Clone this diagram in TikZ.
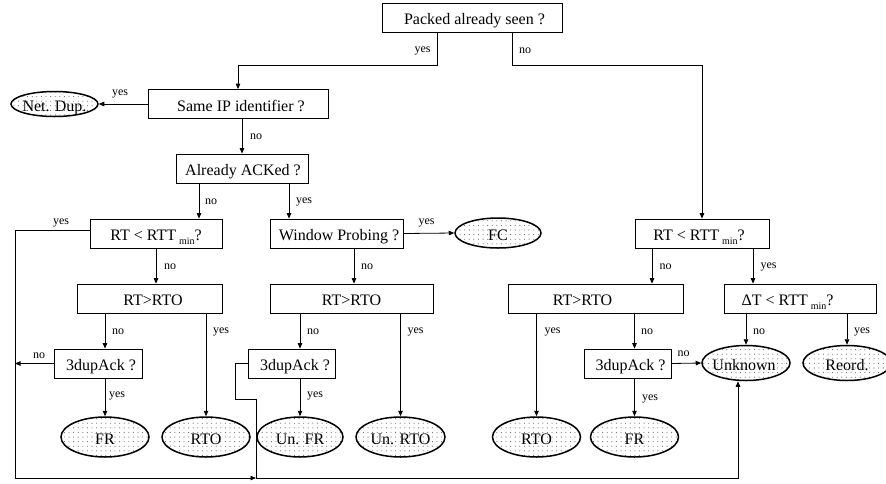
\documentclass[tikz,border=0pt]{standalone}
\usepackage{fontspec}
\setmainfont{Liberation Serif}
\usetikzlibrary{arrows.meta,shapes.geometric,patterns}

% sparse dot fill for the outcome ellipses
\pgfdeclarepatternformonly{sparsedots}{\pgfpoint{-1pt}{-1pt}}{\pgfpoint{1pt}{1pt}}{\pgfpoint{4.6pt}{4.6pt}}%
  {\pgfpathcircle{\pgfpointorigin}{0.55pt}\pgfusepath{fill}}

% zero-width text, optionally nudged sideways (shift = #1 / 2)
\newcommand\ctext[2]{\makebox[0pt]{\hspace*{#1}#2}}
\newcommand\rttmin{RTT\hspace{3pt}\raisebox{-4pt}{\fontsize{10}{10}\selectfont min}}

\begin{document}
\begin{tikzpicture}[x=1pt,y=-1pt,
  font=\fontsize{16}{18}\selectfont,
  box/.style={draw, rectangle, line width=0.8pt, inner sep=0pt,
    minimum height=29pt, text height=14pt, text depth=0pt},
  leaf/.style={draw, ellipse, line width=1.5pt, inner sep=0pt,
    pattern=sparsedots, pattern color=black!60,
    minimum width=88pt, minimum height=40pt, text height=14pt, text depth=0pt},
  lbl/.style={font=\fontsize{12}{13}\selectfont, inner sep=0pt},
  arr/.style={-{Triangle[length=5.5pt,width=4.5pt]}, line width=0.8pt},
  wire/.style={line width=0.8pt}
]
\useasboundingbox (0,0) rectangle (886,483);

% decision boxes
\node[box, minimum width=180pt] (seen)   at (472,17.5)   {\ctext{5pt}{Packed already seen ?}};
\node[box, minimum width=180pt] (sameip) at (238,104)    {\ctext{6pt}{Same IP identifier ?}};
\node[box, minimum width=132pt] (acked)  at (242,168.5)  {\ctext{2pt}{Already ACKed ?}};
\node[box, minimum width=132pt] (rtt1)   at (156,233.5)  {\ctext{0pt}{RT < \rttmin?}};
\node[box, minimum width=133pt] (win)    at (336.5,233.5){\ctext{5pt}{Window Probing ?}};
\node[box, minimum width=134pt] (rtt2)   at (702,233.5)  {\ctext{-6pt}{RT < \rttmin?}};
\node[box, minimum width=145pt] (rto1)   at (149.5,298.5){\ctext{7pt}{RT>RTO}};
\node[box, minimum width=163pt] (rto2)   at (351.5,298.5){\ctext{0pt}{RT>RTO}};
\node[box, minimum width=175pt] (rto3)   at (595.5,298.5){\ctext{-26pt}{RT>RTO}};
\node[box, minimum width=152pt] (dt)     at (800,298.5)  {\ctext{-25pt}{ΔT < \rttmin?}};
\node[box, minimum width=88pt]  (dup1)   at (98,363.5)   {\ctext{6pt}{3dupAck ?}};
\node[box, minimum width=87pt]  (dup2)   at (291.5,363.5){\ctext{7pt}{3dupAck ?}};
\node[box, minimum width=87pt]  (dup3)   at (627.5,363.5){\ctext{6pt}{3dupAck ?}};

% outcomes
\node[leaf, minimum width=87pt, minimum height=25pt] (netdup) at (54.5,104) {\ctext{0pt}{Net. Dup.}};
\node[leaf, minimum width=86pt, minimum height=30pt] (fc)     at (498,233)  {\ctext{0pt}{FC}};
\node[leaf] (fr1)  at (105,437)   {\ctext{0pt}{FR}};
\node[leaf] (rtoA) at (206,437)   {\ctext{0pt}{RTO}};
\node[leaf, minimum width=86pt] (unfr)  at (300,437)   {\ctext{0pt}{Un. FR}};
\node[leaf, minimum width=89pt] (unrto) at (400.5,437) {\ctext{0pt}{Un. RTO}};
\node[leaf] (rtoB) at (536.5,437) {\ctext{0pt}{RTO}};
\node[leaf] (fr2)  at (634.5,437) {\ctext{0pt}{FR}};
\node[leaf, minimum height=35pt] (unknown) at (746,363) {\ctext{-4pt}{Unknown}};
\node[leaf, minimum height=35pt] (reord)   at (847,363) {\ctext{0pt}{Reord.}};

% helper points for bends and rails
\coordinate (lvlA) at (0,65);
\coordinate (a1) at ([xshift=-43pt]acked.south);
\coordinate (a2) at ([xshift=47pt]acked.south);
\coordinate (railtop) at ([yshift=3pt]rtt1.west);
\coordinate (railBL) at (15,478);
\coordinate (merge) at (256,478);
\coordinate (jog) at (235,399);
\coordinate (w1) at ([xshift=17.5pt]win.south);
\coordinate (r1) at ([xshift=-50pt]rtt2.south);
\coordinate (r2) at ([xshift=51pt]rtt2.south);

% top split
\draw[arr] ([xshift=-35pt]seen.south) |- (lvlA -| sameip) -- (sameip.north);
\draw[arr] ([xshift=40pt]seen.south) |- (lvlA -| rtt2) -- (rtt2.north);

% left branch
\draw[arr] (sameip.west) -- (netdup.east);
\draw[arr] (sameip.south -| acked) -- (acked.north);
\draw[arr] (a1) -- (a1 |- rtt1.north);
\draw[arr] (a2) -- (a2 |- win.north);
\draw[arr] (railtop) -| (railBL) -- (merge);
\draw[arr] (dup1.west) -- (dup1.west -| railBL);
\draw[arr] (rtt1.south) -- (rtt1.south |- rto1.north);
\draw[arr] (rto1.south -| fr1) -- (dup1.north -| fr1);
\draw[arr] (rto1.south -| rtoA) -- (rtoA.north);
\draw[arr] (dup1.south -| fr1) -- (fr1.north);

% window probing branch
\draw[arr] (win.east) -- (fc.west);
\draw[arr] (w1) -- (w1 |- rto2.north);
\draw[arr] (rto2.south -| unfr) -- (dup2.north -| unfr);
\draw[arr] (rto2.south -| unrto) -- (unrto.north);
\draw[arr] (dup2.south -| unfr) -- (unfr.north);
\draw[wire] (dup2.west) -| (jog) -| (merge);
\draw[arr] (merge) -| ([xshift=-8pt]unknown.south);

% right branch
\draw[arr] (r1) -- (r1 |- rto3.north);
\draw[arr] (r2) -- (r2 |- dt.north);
\draw[arr] (rto3.south -| rtoB) -- (rtoB.north);
\draw[arr] (rto3.south -| fr2) -- (dup3.north -| fr2);
\draw[arr] (dup3.south -| fr2) -- (fr2.north);
\draw[arr] (dup3.east) -- (unknown.west);
\draw[arr] (dt.south -| unknown) -- (unknown.north);
\draw[arr] (dt.south -| reord) -- (reord.north);

% branch labels
\node[lbl] (l1)  at (422.5,51) {yes};
\node[lbl] (l2)  at (525,51)   {no};
\node[lbl] (l3)  at (120,94)   {yes};
\node[lbl] (l4)  at (256,137)  {no};
\node[lbl] (l5)  at (211,202)  {no};
\node[lbl] (l6)  at (304,202)  {yes};
\node[lbl] (l7)  at (61,223)   {yes};
\node[lbl] (l8)  at (170,267)  {no};
\node[lbl] (l9)  at (118,332)  {no};
\node[lbl] (l10) at (221,332)  {yes};
\node[lbl] (l11) at (426.5,223){yes};
\node[lbl] (l12) at (367,267)  {no};
\node[lbl] (l13) at (313,332)  {no};
\node[lbl] (l14) at (415.5,332){yes};
\node[lbl] (l15) at (39,356)   {no};
\node[lbl] (l16) at (117,396)  {yes};
\node[lbl] (l17) at (315,396)  {yes};
\node[lbl] (l18) at (665.5,267){no};
\node[lbl] (l19) at (768.5,267){yes};
\node[lbl] (l20) at (552.5,332){yes};
\node[lbl] (l21) at (647,332)  {no};
\node[lbl] (l22) at (759,332)  {no};
\node[lbl] (l23) at (862,332)  {yes};
\node[lbl] (l24) at (683.5,354){no};
\node[lbl] (l25) at (650,399)  {yes};
\end{tikzpicture}
\end{document}
